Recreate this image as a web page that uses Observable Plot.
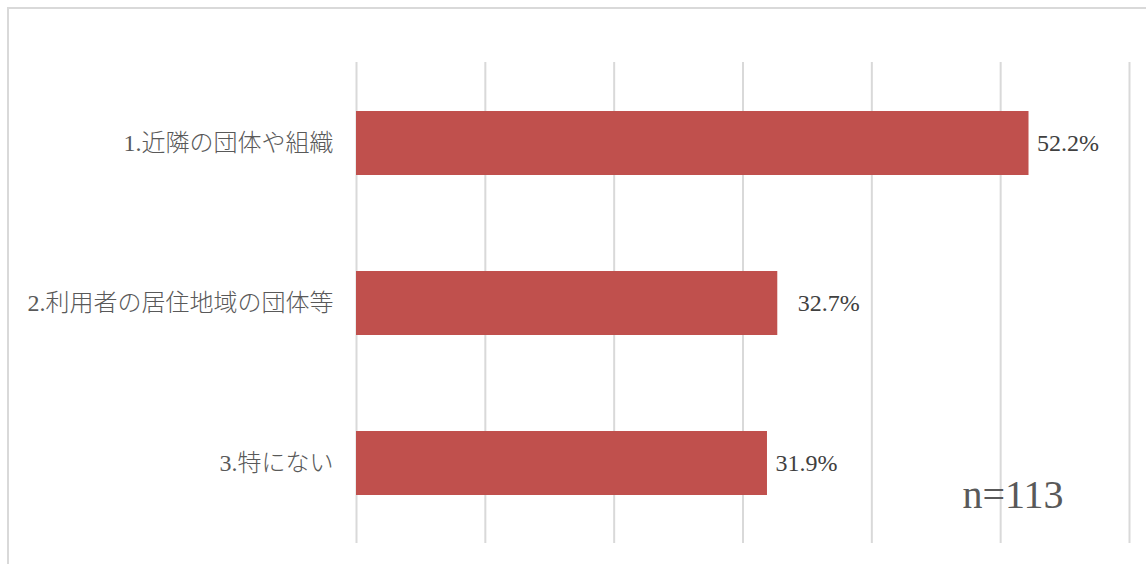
<!DOCTYPE html>
<html><head><meta charset="utf-8">
<script src="https://cdn.jsdelivr.net/npm/d3@7"></script>
<script src="https://cdn.jsdelivr.net/npm/@observablehq/plot@0.6"></script>
<style>
html,body{margin:0;padding:0;background:#fff;overflow:hidden;width:1146px;height:564px}
#wrap{position:relative;width:1146px;height:564px;overflow:hidden}
#frame{position:absolute;left:7px;top:7px;width:1170px;height:590px;border:2px solid #d9d9d9;box-sizing:border-box}
#chart{position:absolute;left:0;top:0}
#chart svg text{font-family:'Liberation Serif','Noto Sans CJK JP',serif}
</style></head><body><div id="wrap"><div id="frame"></div><div id="chart"></div></div>
<script>
const categories = ["1.近隣の団体や組織", "2.利用者の居住地域の団体等", "3.特にない"];
const values = [52.2, 32.7, 31.9];
const valueLabels = ["52.2%", "32.7%", "31.9%"];
const gridTicks = [0, 10, 20, 30, 40, 50, 60];
const sampleNote = "n=113";

const data = categories.map((c, i) => ({category: c, value: values[i], label: valueLabels[i]}));
const font = "'Liberation Serif','Noto Sans CJK JP',serif";

const chart = Plot.plot({
  width: 1146,
  height: 564,
  marginLeft: 356,
  marginRight: 17,
  marginTop: 62,
  marginBottom: 21,
  style: {fontFamily: font, background: "transparent"},
  x: {domain: [0, 60], axis: null},
  y: {domain: categories, paddingInner: 0.6, paddingOuter: 0.3, label: null},
  marks: [
    Plot.ruleX(gridTicks, {stroke: "#d9d9d9", strokeWidth: 2, strokeOpacity: 1}),
    Plot.barX(data, {x: "value", y: "category", fill: "#c0504d"}),
    Plot.axisY({tickSize: 0, tickPadding: 23, fontSize: 24, fill: "#595959", fontWeight: 300, fontFamily: font, label: null}),
    Plot.text(data.filter((d, i) => i !== 1), {x: "value", y: "category", text: "label", textAnchor: "start", dx: 8, fontSize: 24, fontFamily: font, fill: "#404040"}),
    Plot.text(data.filter((d, i) => i === 1), {x: "value", y: "category", text: "label", textAnchor: "start", dx: 20, fontSize: 24, fontFamily: font, fill: "#404040"}),
    Plot.text([sampleNote], {frameAnchor: "bottom-right", textAnchor: "end", lineAnchor: "middle", dx: -66, dy: -48, fontSize: 40, fontFamily: font, fill: "#595959"})
  ]
});
document.getElementById("chart").appendChild(chart);
</script>
</body></html>
